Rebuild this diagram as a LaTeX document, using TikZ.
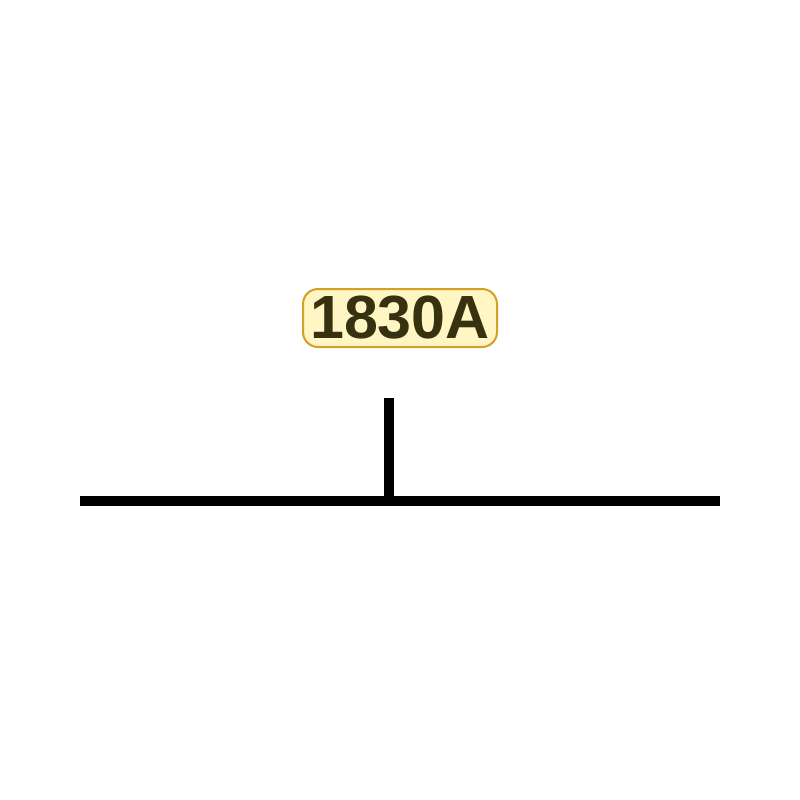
\documentclass[tikz,border=0pt]{standalone}
\usepackage{fontspec}
\setmainfont{Liberation Sans}
\definecolor{labelfill}{HTML}{FFF6C4}
\definecolor{labeldraw}{HTML}{D4A028}
\definecolor{labeltext}{HTML}{36320F}
\tikzset{
  px/.style={x=1pt,y=-1pt},
  tag/.style={draw=labeldraw, fill=labelfill, line width=2pt, rounded corners=15pt,
    minimum width=194pt, minimum height=58pt, inner sep=0pt,
    text=labeltext, font=\fontsize{61}{61}\selectfont\bfseries},
  wire/.style={line width=10pt, black}
}
\begin{document}
\begin{tikzpicture}[px]
\useasboundingbox (0,0) rectangle (800,800);
\node[tag] (lbl) at (400,318) {1830A};
\coordinate (wl) at (80,501);
\coordinate (wr) at (720,501);
\coordinate (wj) at (389,501);
\coordinate (wt) at (389,398);
\draw[wire] (wl) -- (wr);
\draw[wire] (wt) -- (wj);
\end{tikzpicture}
\end{document}
